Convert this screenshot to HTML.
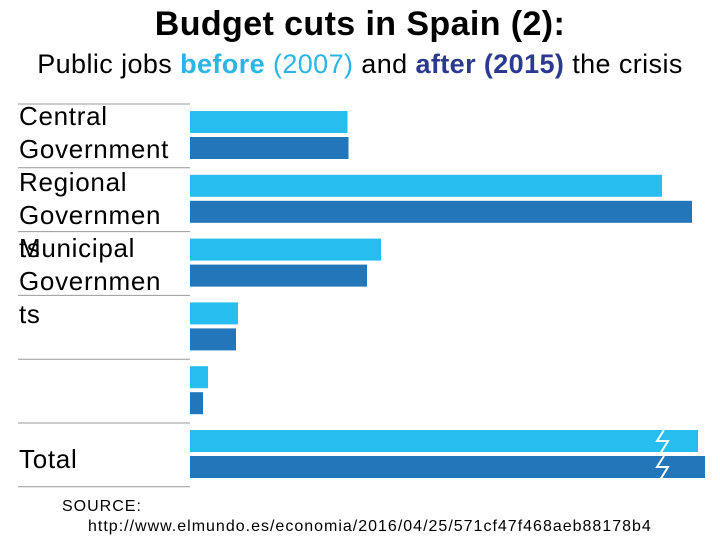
<!DOCTYPE html>
<html><head><meta charset="utf-8"><style>
body{margin:0;width:720px;height:540px;background:#fff;font-family:"Liberation Sans",sans-serif;position:relative;overflow:hidden}
.t{position:absolute;white-space:nowrap}
</style></head><body>
<div class="t" style="left:0;width:720px;text-align:center;top:5px;font-size:34px;font-weight:bold;letter-spacing:0.4px">Budget cuts in Spain (2):</div>
<div class="t" style="left:0;width:720px;text-align:center;top:49px;font-size:27px;letter-spacing:0.4px">Public jobs <b style="color:#29b5e6">before</b> <span style="color:#29b5e6">(2007)</span> and <b style="color:#2b3990">after (2015)</b> the crisis</div>
<div class="t" style="left:19px;top:100px;font-size:26px;line-height:33px;white-space:normal;width:172px;letter-spacing:0.7px">Central Government Regional Governmen<br>Municipal<br>Governmen<br>ts</div>
<div class="t" style="left:19px;top:232px;font-size:26px;line-height:33px;letter-spacing:0.7px">ts</div>
<div class="t" style="left:19px;top:443px;font-size:26px;line-height:33px;letter-spacing:0.7px">Total</div>
<div class="t" style="left:62px;top:497px;font-size:16px;line-height:20px;letter-spacing:1px">SOURCE:<br><span style="margin-left:26px">http://www.elmundo.es/economia/2016/04/25/571cf47f468aeb88178b4</span></div>
<svg id="c" width="720" height="540" style="position:absolute;left:0;top:0"></svg>
<script>
const categories=["Central Government","Regional Governments","Municipal Governments","Universities","Other","Total"];
const before2007=[315,944,382,96,36,1016];
const after2015=[317,1004,354,92,26,1030];
const ns="http://www.w3.org/2000/svg";
const svg=document.getElementById('c');
const x0=190, sc=0.5;
function x(v){return x0+v*sc;}
function rowY(i){return 104+i*63.8;}
function mk(tag,a){const e=document.createElementNS(ns,tag);for(const k in a)e.setAttribute(k,a[k]);svg.appendChild(e);return e;}
for(let i=0;i<=categories.length;i++){
  const l=mk('line',{x1:18,x2:190,y1:rowY(i),y2:rowY(i),stroke:'#999','stroke-width':1});
  
  
}
categories.forEach((c,i)=>{
  const y=rowY(i);
  const b=mk('rect',{x:x0,y:y+7,width:x(before2007[i])-x0,height:22,fill:'#27bdee'});
  
  
  const a=mk('rect',{x:x0,y:y+33,width:x(after2015[i])-x0,height:22,fill:'#2276b9'});
  
  
  if(i===categories.length-1){
    [y+7,y+33].forEach(yy=>{
      const p=mk('polyline',{points:`664,${yy} 657,${yy+11} 668,${yy+11} 660,${yy+24}`,fill:'none',stroke:'#fff','stroke-width':2});
      
      
    });
  }
});
</script>
</body></html>
